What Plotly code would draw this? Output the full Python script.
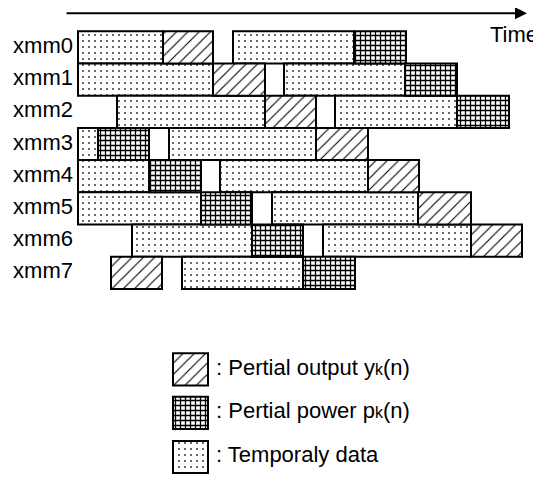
import plotly.graph_objects as go

# Register names (rows)
rows = ["xmm0", "xmm1", "xmm2", "xmm3", "xmm4", "xmm5", "xmm6", "xmm7"]

# Temporary data segments (row index, start, end) in time units
temp_row = [0, 0, 1, 1, 2, 2, 3, 3, 4, 4, 5, 5, 6, 6, 7]
temp_start = [0, 155, 0, 206, 39, 257, 0, 91, 0, 142, 0, 194, 54, 245, 104]
temp_end = [85, 276, 135, 327, 187, 379, 20, 238, 71, 290, 123, 340, 174, 393, 225]

# Partial output y_k(n) segments (one per row)
output_start = [85, 135, 187, 238, 290, 340, 393, 33]
output_end = [135, 187, 238, 290, 341, 393, 444, 84]

# Partial power p_k(n) segments (one per row)
power_start = [276, 327, 379, 20, 71, 123, 174, 225]
power_end = [328, 379, 431, 71, 123, 174, 225, 277]

legend_labels = [
    ": Pertial output y<span style='font-size:16px'>k</span>(n)",
    ": Pertial power p<span style='font-size:16px'>k</span>(n)",
    ": Temporaly data",
]

FONT = "Liberation Sans, Arial, Helvetica, sans-serif"

pat_temp = dict(shape=".", size=6, solidity=0.07, fgcolor="#222222", bgcolor="white", fillmode="replace")
pat_out = dict(shape="/", size=8, solidity=0.14, fgcolor="black", bgcolor="white", fillmode="replace")
pat_pow = dict(shape="+", size=5, solidity=0.45, fgcolor="black", bgcolor="white", fillmode="replace")

line = dict(color="black", width=2)

fig = go.Figure()

fig.add_trace(go.Bar(
    orientation="h", y=temp_row,
    x=[e - s for s, e in zip(temp_start, temp_end)], base=temp_start,
    width=1, marker=dict(color="white", line=line, pattern=pat_temp),
    showlegend=False, hoverinfo="skip"))
fig.add_trace(go.Bar(
    orientation="h", y=list(range(len(rows))),
    x=[e - s for s, e in zip(output_start, output_end)], base=output_start,
    width=1, marker=dict(color="white", line=line, pattern=pat_out),
    showlegend=False, hoverinfo="skip"))
fig.add_trace(go.Bar(
    orientation="h", y=list(range(len(rows))),
    x=[e - s for s, e in zip(power_start, power_end)], base=power_start,
    width=1, marker=dict(color="white", line=line, pattern=pat_pow),
    showlegend=False, hoverinfo="skip"))

# Row labels
fig.add_trace(go.Scatter(
    x=[-5] * len(rows), y=list(range(len(rows))), mode="text", text=rows,
    textposition="middle left", textfont=dict(family=FONT, size=22, color="black"),
    showlegend=False, hoverinfo="skip"))

# Hand-made legend
leg_y = [10.0, 11.35, 12.72]
leg_x0, leg_x1 = 95, 130
for yy, pat in zip(leg_y, [pat_out, pat_pow, pat_temp]):
    fig.add_trace(go.Bar(
        orientation="h", y=[yy], x=[leg_x1 - leg_x0], base=[leg_x0], width=1.0,
        marker=dict(color="white", line=line, pattern=pat),
        showlegend=False, hoverinfo="skip"))
fig.add_trace(go.Scatter(
    x=[leg_x1 + 8] * 3, y=leg_y, mode="text", text=legend_labels,
    textposition="middle right", textfont=dict(family=FONT, size=22, color="black"),
    showlegend=False, hoverinfo="skip"))

# Time arrow
fig.add_annotation(x=449, y=-1.06, ax=-13, ay=-1.06, xref="x", yref="y",
                   axref="x", ayref="y", showarrow=True, arrowhead=2,
                   arrowsize=1.2, arrowwidth=2, arrowcolor="black", text="")
fig.add_annotation(x=436, y=-0.39, xref="x", yref="y", text="Time", showarrow=False,
                   font=dict(family=FONT, size=22, color="black"))

# The page body has an 8px margin, so the figure is sized to fill the rest.
fig.update_layout(
    width=533, height=475, margin=dict(l=0, r=0, t=0, b=0),
    paper_bgcolor="white", plot_bgcolor="white", barmode="overlay",
    xaxis=dict(range=[-70, 463], visible=False, fixedrange=True),
    yaxis=dict(range=[13.528, -1.2236], visible=False, fixedrange=True),
)

fig.write_html("out.html")
